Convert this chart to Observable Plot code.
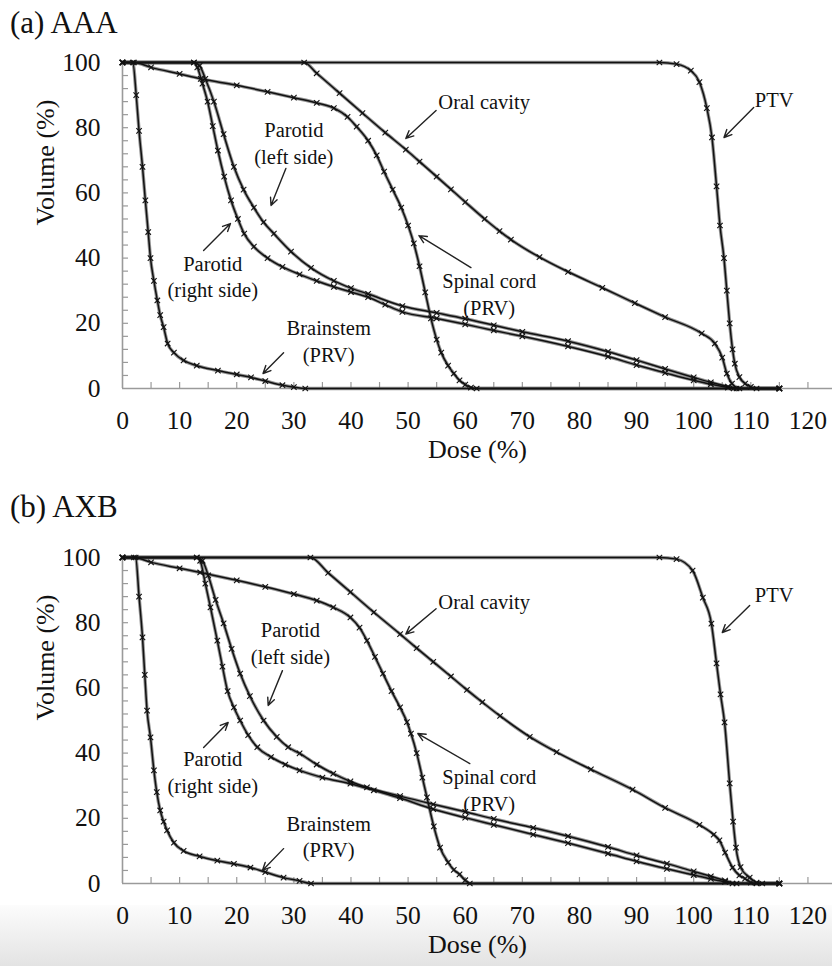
<!DOCTYPE html>
<html><head><meta charset="utf-8">
<script src="https://cdn.jsdelivr.net/npm/d3@7"></script>
<script src="https://cdn.jsdelivr.net/npm/@observablehq/plot@0.6"></script>
<style>
body{margin:0;background:#fff;font-family:"Liberation Serif","Times New Roman",serif;}
#page{position:relative;width:832px;height:966px;overflow:hidden;background:#fff;}
.ttl{position:absolute;left:10px;font-size:31px;line-height:34px;color:#111;}
.band{position:absolute;left:0;top:905px;width:832px;height:61px;background:linear-gradient(#fcfcfc,#e3e3e3);}
.panel{position:absolute;left:0;}
</style></head><body>
<div id="page">
  <div class="band"></div>
  <div class="ttl" style="top:6px">(a) AAA</div>
  <div class="ttl" style="top:490px">(b) AXB</div>
  <div class="panel" id="pa" style="top:40px"></div>
  <div class="panel" id="pb" style="top:530px"></div>
</div>
<script>
// ---- axis ticks ----
const xTicks = [0,10,20,30,40,50,60,70,80,90,100,110,120];
const yTicks = [0,20,40,60,80,100];
const xMinor = [5,10,15,20,25,30,35,40,45,50,55,60,65,70,75,80,85,90,95,100,105,110,115,120];
const yMinor = [4,8,12,16,20,24,28,32,36,40,44,48,52,56,60,64,68,72,76,80,84,88,92,96];

// ---- (a) AAA : [dose %, volume %] ----
const aaaPTV = [[0,100],[94,100],[97,99.5],[99.5,97.5],[101,94],[102.3,86],[103.2,77],[104,62],[104.6,50],[105.3,40],[105.8,30],[106.3,20],[106.8,12],[107.2,7.6],[108,3.5],[109,1.5],[110,0.5],[111,0],[115,0]];
const aaaOral = [[0,100],[31.8,100],[34,96.7],[38,90.6],[42,84.5],[46,78.5],[49.6,73.3],[52,69.6],[55,65],[57.5,61.1],[60,57.2],[63.4,52],[66,48.3],[68,45.7],[73,40.3],[78,35.8],[84,30.9],[89.7,26.2],[95,21.9],[101.4,16.9],[103.7,13.8],[105,9.5],[105.8,4.6],[106.7,1.5],[108,0],[115,0]];
const aaaSpinal = [[0,100],[2,100],[5,98.5],[10,96.5],[13.7,95],[20,93],[25.4,91],[30,89.2],[34,87.6],[37,86],[39.4,83.3],[41,80.3],[43,76],[44.5,71.5],[45.8,66.5],[47.3,61],[48.8,55.5],[50,50],[51,44.5],[52,37.5],[53,29.5],[54,21.5],[55,15],[55.8,11],[57,7],[58,4.6],[59,2.5],[60,1.2],[61,0.3],[62,0],[115,0]];
const aaaParR = [[0,100],[12.5,100],[13.1,98.5],[14,93.5],[14.9,88],[15.8,80.5],[16.7,73],[17.8,65],[19,57.7],[20.2,52],[21.3,47.5],[23,43.5],[25.4,40],[28,37.3],[31,35],[34,33],[37,31.2],[40,29.6],[43,28],[46,25.7],[49,23.5],[55,21.5],[60,19.7],[65,17.8],[70,16],[78,12.9],[85,9.8],[90,7.2],[95,4.8],[100,2.5],[103,1.3],[106,0.3],[107,0],[115,0]];
const aaaParL = [[0,100],[12.5,100],[13.5,99],[14.5,95],[16,88],[17.7,78],[19.5,68],[21.2,61],[23,55.5],[24.7,51],[26.5,47.5],[29.5,42],[33,37],[37,33],[40,30.8],[43,29],[49,25.3],[55,23.2],[60,21.4],[65,19.4],[70,17.4],[78,14.5],[85,11.3],[90,8.7],[95,6],[100,3.4],[103,1.9],[106,0.6],[107.5,0],[115,0]];
const aaaBrain = [[0,100],[1.8,100],[2.4,90],[2.9,79],[3.5,68],[4,57.7],[4.5,48],[4.9,40],[5.5,33],[6.1,27],[6.6,22.5],[7.2,18.8],[7.9,13.8],[9,11],[10.7,8.6],[13,7],[16.7,5.5],[20,4.3],[22.5,3.4],[25,2.3],[28,1],[30,0.4],[32,0],[115,0]];

// ---- (b) AXB ----
const axbPTV = [[0,100],[94,100],[97,99.5],[99.8,96],[101.6,87.7],[103.1,79.7],[104,67.5],[104.7,58],[105.4,49.4],[106.3,30.7],[106.9,19],[107.4,11],[108.2,5],[109.8,1.8],[111,0.3],[112,0],[115,0]];
const axbOral = [[0,100],[32.9,100],[36,95.3],[39.9,89.4],[44,83.2],[48.6,76.5],[51.5,72.2],[54.4,68],[57.5,63.5],[60.3,59.4],[63,55.6],[66.1,51.4],[71.3,45],[76,40.3],[82,35],[89.3,28.8],[95,23.2],[101,18],[103.5,15],[104.5,13.2],[105.5,9.5],[106.8,4.9],[108,2.5],[109,1.5],[110,0.3],[111,0],[115,0]];
const axbSpinal = [[0,100],[2,100],[5,98.5],[10,96.7],[13.6,95.4],[20,93],[25,91],[30,88.8],[34,86.8],[36.9,84.7],[39.9,81.6],[41.5,78.5],[42.8,74.5],[44.2,69.5],[45.6,64.4],[47.1,59],[48.6,54],[49.8,49.5],[50.5,46],[51.5,40],[52.5,32.5],[53.3,26.4],[54.5,17.5],[55.6,11],[57,6.5],[58,4.2],[59,2.8],[60,1],[60.8,0],[115,0]];
const axbParR = [[0,100],[13,100],[13.6,99],[14.5,92],[15.4,84.7],[16.6,74.5],[17.5,66.5],[18.4,59],[19.5,54],[20.6,50],[22,45.5],[23.6,41.8],[26,38.8],[28.5,36.5],[31,34.7],[35,32.5],[39.9,30.6],[44,28.6],[48.6,26.2],[54.4,22.8],[60,20.2],[65,18],[71.9,15],[78,12.4],[85,9.2],[90,6.8],[95.3,4.5],[100,2.6],[103,1.4],[105.5,0.5],[106.8,0],[115,0]];
const axbParL = [[0,100],[13,100],[14,99],[15,94.5],[16.3,87],[17.7,79.8],[19.1,72],[20.6,64.4],[22.3,57.5],[24.7,50],[27,45],[29,41.8],[31,39.9],[34,36.5],[36.9,33.7],[39.9,31.3],[42.8,29.5],[48.6,26.8],[54.4,24.3],[60,22],[65,19.8],[71.9,17.1],[78,14.5],[85,11.2],[90,8.6],[95.3,6.1],[100,3.7],[103,2.2],[105.5,0.9],[107.5,0],[115,0]];
const axbBrain = [[0,100],[2.3,100],[2.9,88],[3.5,75.5],[3.9,64],[4.3,53],[4.9,44.8],[5.5,34.7],[6,28],[6.6,22.4],[7.2,19],[7.8,16.3],[9,12.5],[10.7,10],[13.5,8.3],[16.6,7],[19.5,6],[22.4,4.9],[25,3.5],[28.2,1.8],[31,0.8],[33,0],[115,0]];

// ---- annotations: label text, label position (dose, volume), arrow from -> to ----
const noteText = ["Oral cavity","PTV","Parotid\n(left side)","Parotid\n(right side)","Brainstem\n(PRV)","Spinal cord\n(PRV)"];
const noteLeftAligned = [true, true, false, false, false, false];
const aaaNoteXY = [[55.3,88.3],[110.7,89],[30,75.6],[15.8,34.7],[36.1,14.9],[64.2,29.3]];
const aaaArrow = [[54.9,85.3,49.6,76.7],[110.5,86.2,105.3,77],[28.6,67.5,26,56.1],[14.2,42.3,18.9,50.6],[28.2,11,24.6,4.6],[61,37.1,51.9,46.9]];
const axbNoteXY = [[55.3,86.8],[110.7,89],[29.4,74],[15.8,34.6],[36.1,14.7],[64.2,29]];
const axbArrow = [[54.9,84.3,49.6,76.5],[109.8,85.3,105,77],[28,65.3,25.5,54.6],[14.2,41.7,18.5,49.4],[28.2,10.7,24.5,4],[60.8,36.8,51.7,46]];

const names = ["PTV","Oral cavity","Spinal cord","Parotid R","Parotid L","Brainstem"];

function rowsOf(list) {
  return list.flatMap((pts, k) => pts.map(([d, v]) => ({name: names[k], dose: d, vol: v})));
}

function panel(list, noteXY, arrows, h, mt, mb) {
  const rows = rowsOf(list);
  const notes = noteText.map((t, i) => ({t, x: noteXY[i][0], y: noteXY[i][1], left: noteLeftAligned[i]}));
  const arr = arrows.map(([x1,y1,x2,y2]) => ({x1,y1,x2,y2}));
  const ph = h - mt - mb;
  return Plot.plot({
    width: 832, height: h,
    marginLeft: 122, marginRight: 0, marginTop: mt, marginBottom: mb,
    x: {domain: [0, 124.3]},
    y: {domain: [0, 100]},
    style: {fontFamily: "'Liberation Serif','Times New Roman',serif", background: "transparent", color: "#111", overflow: "visible"},
    marks: [
      Plot.tickY(yMinor, {stroke: "#9a9a9a", strokeWidth: 1.2, insetRight: 832 - 122 - 6}),
      Plot.tickX(xMinor, {stroke: "#9a9a9a", strokeWidth: 1.2, insetTop: ph - 6}),
      Plot.ruleX([0], {stroke: "#9a9a9a", strokeWidth: 1.6}),
      Plot.ruleY([0], {stroke: "#9a9a9a", strokeWidth: 1.6}),
      Plot.axisY({ticks: yTicks, tickSize: 0, tickPadding: 22, fontSize: 25.5, label: null}),
      Plot.axisX({ticks: xTicks, tickSize: 0, tickPadding: 22, fontSize: 25.5, label: null}),
      Plot.text(["Volume (%)"], {frameAnchor: "left", dx: -77, rotate: -90, fontSize: 26}),
      Plot.text(["Dose (%)"], {frameAnchor: "bottom", dy: 69, fontSize: 26}),
      Plot.line(rows, {x: "dose", y: "vol", z: "name", stroke: "#666", strokeOpacity: 0.7, strokeWidth: 3.4, curve: "monotone-x"}),
      Plot.line(rows, {x: "dose", y: "vol", z: "name", stroke: "#111", strokeWidth: 1.5, curve: "monotone-x"}),
      Plot.dot(rows, {x: "dose", y: "vol", symbol: "times", r: 2.6, stroke: "#111", strokeWidth: 1.1}),
      Plot.arrow(arr, {x1: "x1", y1: "y1", x2: "x2", y2: "y2", stroke: "#222", strokeWidth: 1.4, headLength: 9, headAngle: 50}),
      Plot.text(notes.filter(d => d.left), {x: "x", y: "y", text: "t", textAnchor: "start", fontSize: 20.5, lineHeight: 1.3, fill: "#111"}),
      Plot.text(notes.filter(d => !d.left), {x: "x", y: "y", text: "t", textAnchor: "middle", fontSize: 20.5, lineHeight: 1.3, fill: "#111"})
    ]
  });
}

document.getElementById("pa").append(panel([aaaPTV, aaaOral, aaaSpinal, aaaParR, aaaParL, aaaBrain], aaaNoteXY, aaaArrow, 435, 22, 87));
document.getElementById("pb").append(panel([axbPTV, axbOral, axbSpinal, axbParR, axbParL, axbBrain], axbNoteXY, axbArrow, 436, 27, 83));
</script>
</body></html>
